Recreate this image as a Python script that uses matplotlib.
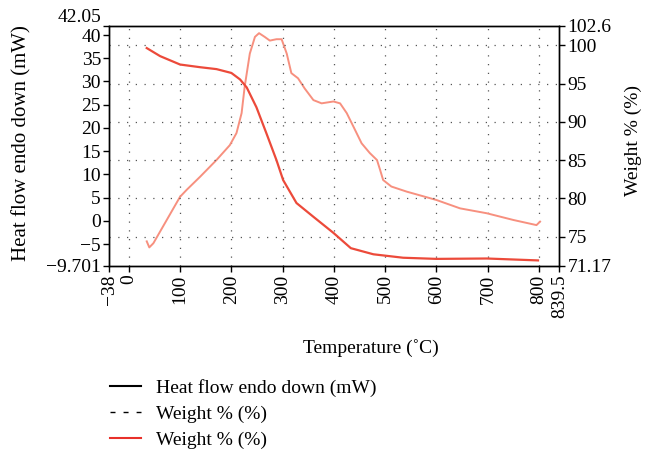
import matplotlib.pyplot as plt
from matplotlib.lines import Line2D

plt.rcParams['font.family'] = ['Liberation Serif', 'DejaVu Serif']

# heat flow curve (left axis)
hf_temp = [35, 40, 48, 74, 100, 113, 139, 171, 197, 210, 220, 226, 236, 246, 254,
           265, 275, 288, 298, 308, 317, 330, 343, 360, 376, 399, 412, 425, 438,
           454, 470, 484, 490, 496, 512, 542, 600, 646, 698, 750, 795, 802]
hf_val = [-4.4, -5.7, -4.8, 0.2, 5.2, 6.7, 9.5, 13.1, 16.3, 18.9, 23.2, 28.9, 36,
          39.6, 40.4, 39.6, 38.8, 39.1, 39.1, 36, 31.8, 30.7, 28.5, 26, 25.3, 25.7,
          25.3, 23.2, 20.3, 16.7, 14.6, 13.1, 11, 8.8, 7.4, 6.3, 4.5, 2.7, 1.65,
          0.2, -0.9, -0.15]

# weight curve (right axis)
w_temp = [35, 61, 100, 139, 171, 200, 217, 230, 249, 269, 288, 301, 327, 360,
          373, 399, 433, 477, 535, 600, 698, 798]
w_val = [99.65, 98.6, 97.5, 97.15, 96.9, 96.4, 95.55, 94.5, 91.9, 88.4, 85, 82.4,
         79.4, 77.6, 76.9, 75.5, 73.5, 72.7, 72.25, 72.1, 72.15, 71.9]

x_ticks = [-38, 0, 100, 200, 300, 400, 500, 600, 700, 800, 839.5]
x_labels = ['\u221238', '0', '100', '200', '300', '400', '500', '600', '700', '800', '839.5']
left_ticks = [-9.701, -5, 0, 5, 10, 15, 20, 25, 30, 35, 40, 42.05]
left_labels = ['\u22129.701', '\u22125', '0', '5', '10', '15', '20', '25', '30', '35', '40', '42.05']
right_ticks = [71.17, 75, 80, 85, 90, 95, 100, 102.6]
right_labels = ['71.17', '75', '80', '85', '90', '95', '100', '102.6']

fs = 14
fig = plt.figure(figsize=(6.46, 4.49), dpi=100)
ax = fig.add_axes([109.3 / 646, 1 - 266 / 449, 450 / 646, 240.5 / 449])
ax2 = ax.twinx()

grid_style = dict(color='#555555', lw=0.9, ls=(0, (1, 6)), zorder=0)
for t in x_ticks[1:-1]:
    ax.axvline(t, **grid_style)
for t in right_ticks[1:-1]:
    ax2.axhline(t, **grid_style)

ax.plot(hf_temp, hf_val, color='#f7907f', lw=1.4, zorder=3)
ax2.plot(w_temp, w_val, color='#ec4a3a', lw=1.6, zorder=3)

ax.set_xlim(-38, 839.5)
ax.set_ylim(-9.701, 42.05)
ax2.set_ylim(71.17, 102.6)

ax.set_xticks(x_ticks)
ax.set_xticklabels(x_labels, rotation=90, fontsize=fs)
ax.set_yticks(left_ticks)
ax.set_yticklabels(left_labels, fontsize=fs)
ax2.set_yticks(right_ticks)
ax2.set_yticklabels(right_labels, fontsize=fs)
ax.get_yticklabels()[-1].set_va('bottom')

for a in (ax, ax2):
    a.tick_params(direction='out', length=4, width=1, pad=2)
    for s in a.spines.values():
        s.set_linewidth(1)

fig.text(22 / 646, 1 - 143 / 449, 'Heat flow endo down (mW)', fontsize=15,
         rotation=90, ha='center', va='center')
fig.text(633 / 646, 1 - 140 / 449, 'Weight % (%)', fontsize=fs,
         rotation=90, ha='center', va='center')
fig.text(371 / 646, 1 - 348 / 449, 'Temperature (\u02daC)', fontsize=fs, ha='center', va='center')

handles = [Line2D([], [], color='black', lw=1.5),
           Line2D([], [], color='black', lw=1, ls=(0, (3.6, 5.8))),
           Line2D([], [], color='#e8302a', lw=1.5)]
labels = ['Heat flow endo down (mW)', 'Weight % (%)', 'Weight % (%)']
fig.legend(handles, labels, loc='upper left', bbox_to_anchor=(102 / 646, 1 - 371 / 449),
           frameon=False, fontsize=fs, handlelength=1.6, handletextpad=0.8,
           labelspacing=0.44, borderaxespad=0)

fig.savefig('out.png', dpi=100)
